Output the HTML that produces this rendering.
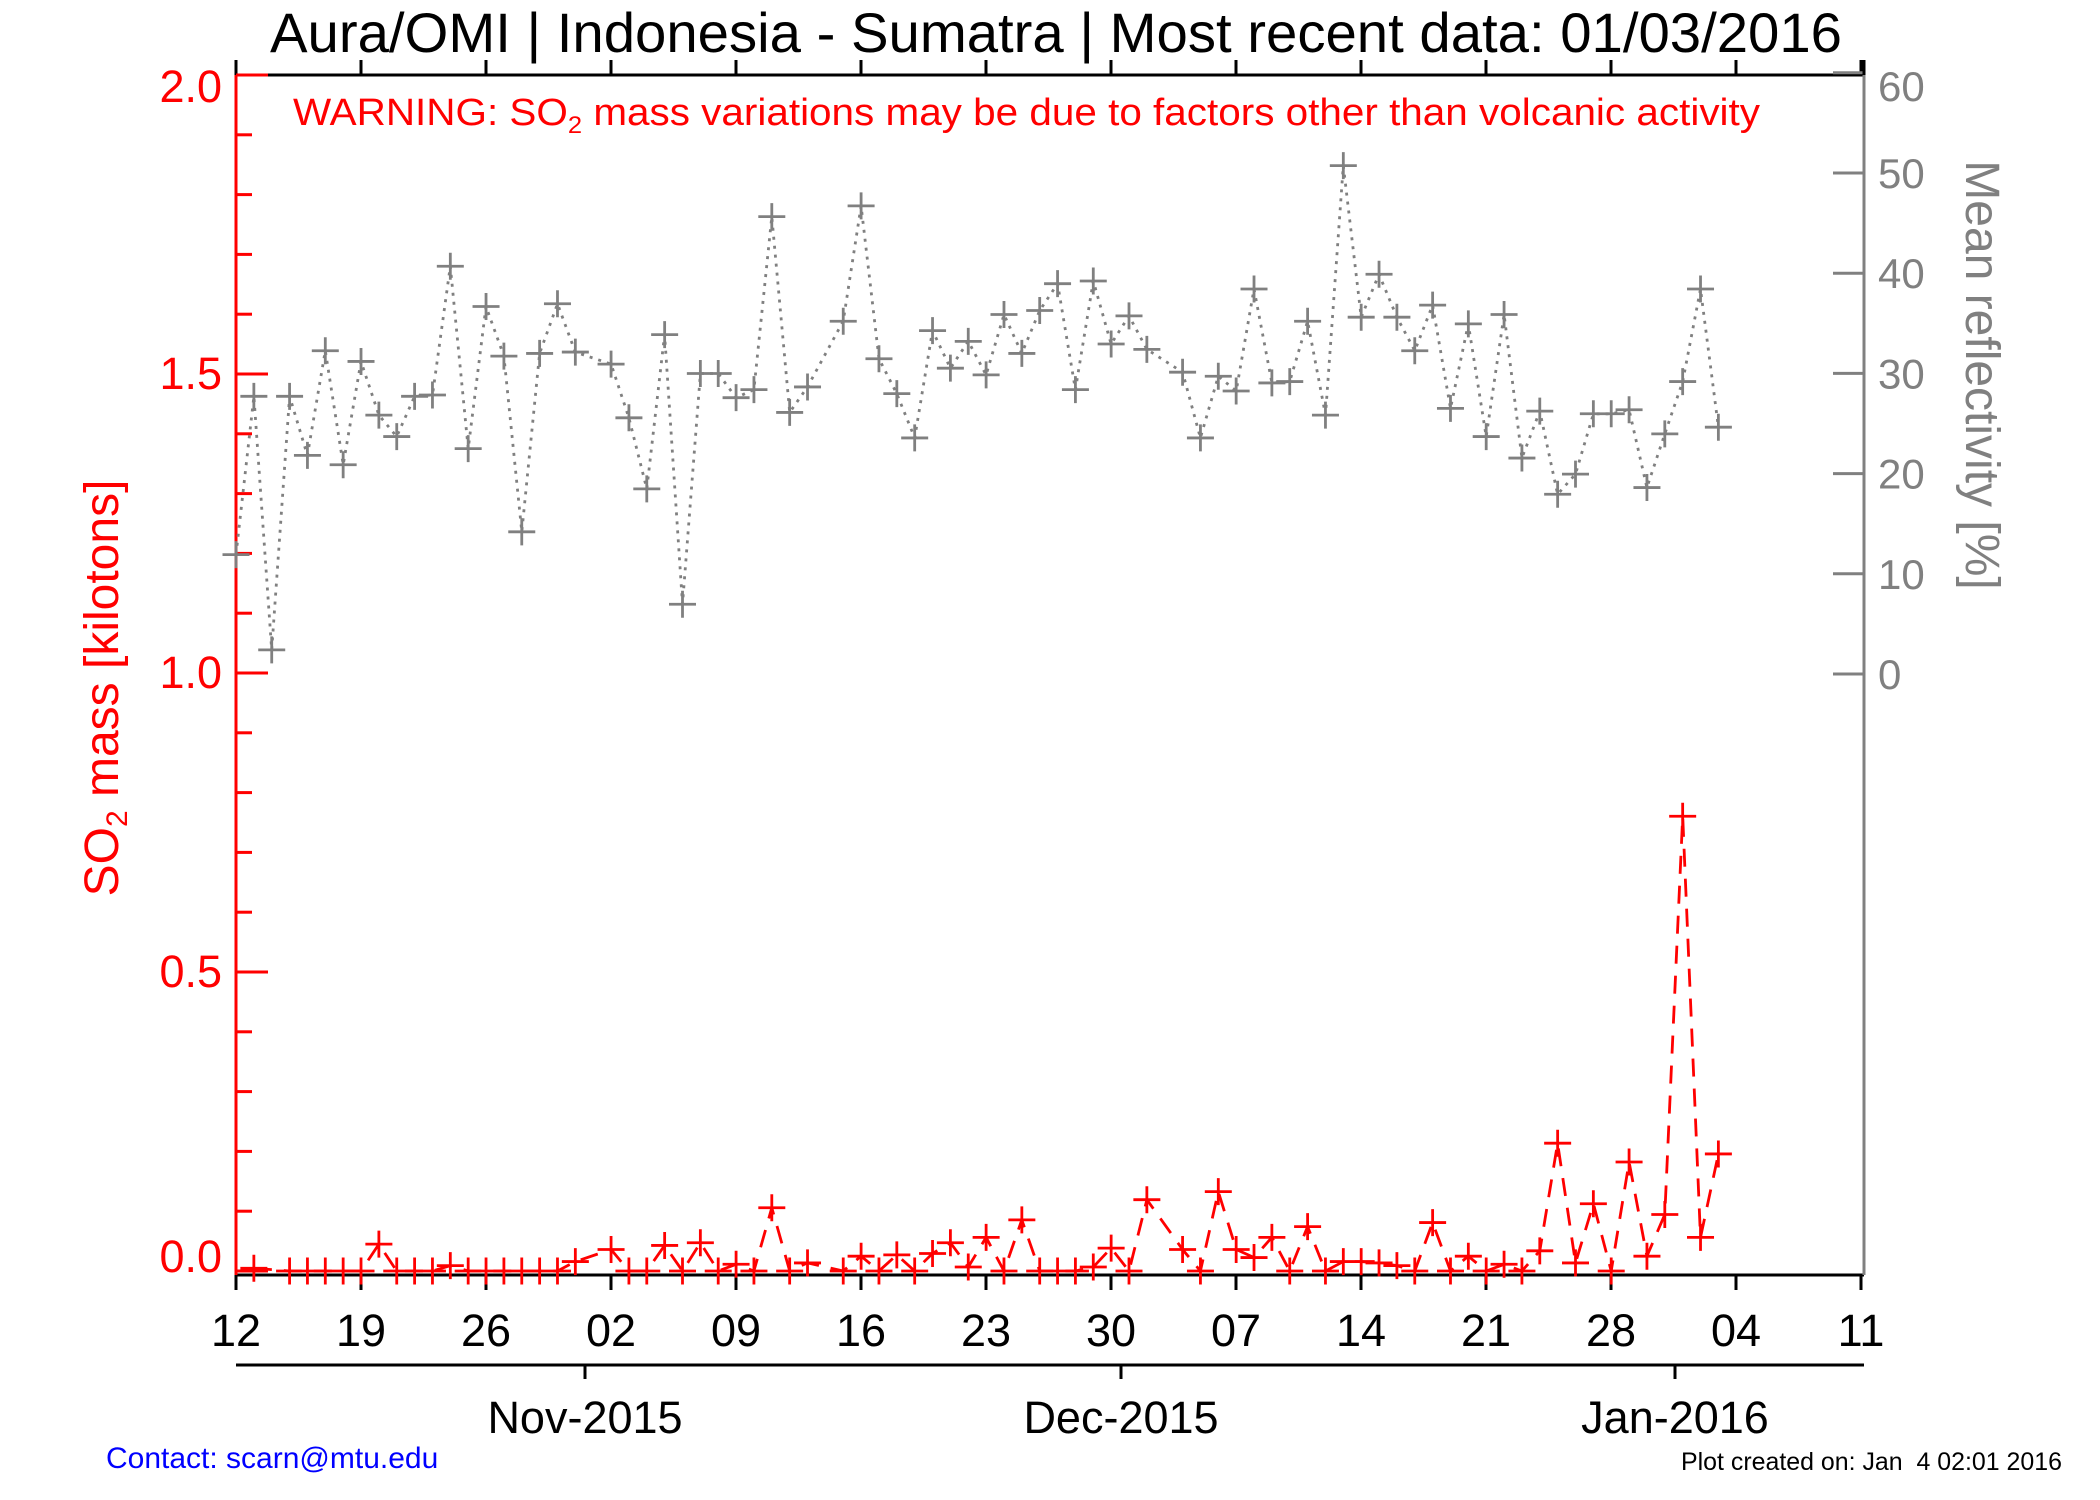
<!DOCTYPE html>
<html><head><meta charset="utf-8">
<style>
html,body{margin:0;padding:0;background:#fff;}
svg{display:block;}
text{font-family:"Liberation Sans",sans-serif;}
</style></head>
<body>
<svg id="s" width="2100" height="1500" viewBox="0 0 2100 1500" xmlns="http://www.w3.org/2000/svg">
<rect width="2100" height="1500" fill="#fff"/>
<text x="1056" y="52" font-size="56" text-anchor="middle" textLength="1572" lengthAdjust="spacingAndGlyphs" fill="#000">Aura/OMI | Indonesia - Sumatra | Most recent data: 01/03/2016</text>
<text x="293" y="125" font-size="38" fill="#f00" textLength="1467" lengthAdjust="spacingAndGlyphs">WARNING: SO<tspan font-size="24" dy="8">2</tspan><tspan dy="-8"> mass variations may be due to factors other than volcanic activity</tspan></text>
<g id="axes"></g>
<g id="data"></g>
<text transform="translate(118,688) rotate(-90)" font-size="48" fill="#f00" text-anchor="middle">SO<tspan font-size="30" dy="9">2</tspan><tspan dy="-9"> mass [kilotons]</tspan></text>
<text transform="translate(1966,375) rotate(90)" font-size="48" fill="#808080" text-anchor="middle">Mean reflectivity [%]</text>
<text x="106" y="1468" font-size="30" fill="#00f">Contact: scarn@mtu.edu</text>
<text x="1681" y="1470" font-size="25" fill="#000" textLength="381" lengthAdjust="spacingAndGlyphs">Plot created on: Jan&#160;&#160;4 02:01 2016</text>
</svg>
<script>
var NS="http://www.w3.org/2000/svg";
function el(p,t,a,txt){var e=document.createElementNS(NS,t);for(var k in a)e.setAttribute(k,a[k]);if(txt!==undefined)e.textContent=txt;p.appendChild(e);return e;}
var ax=document.getElementById('axes'),dg=document.getElementById('data');
var L=236,R=1864,B=1275,T=75;
function X(d){return L+17.86*d;}
function YL(v){return 1271-598*v;}
function YR(v){return 674-10.02*v;}
el(ax,'line',{x1:L,y1:B,x2:R,y2:B,stroke:'#000','stroke-width':3});
el(ax,'line',{x1:L,y1:T,x2:R,y2:T,stroke:'#000','stroke-width':3});
var labs=['12','19','26','02','09','16','23','30','07','14','21','28','04','11'];
for(var i=0;i<14;i++){var x=L+125*i;
 el(ax,'line',{x1:x,y1:B,x2:x,y2:B+15,stroke:'#000','stroke-width':3});
 el(ax,'line',{x1:x,y1:T,x2:x,y2:T-15,stroke:'#000','stroke-width':3});
 el(ax,'text',{x:x,y:1346,'font-size':45,'text-anchor':'middle',fill:'#000'},labs[i]);}
el(ax,'line',{x1:L,y1:1365,x2:R,y2:1365,stroke:'#000','stroke-width':3});
[[585,'Nov-2015'],[1121,'Dec-2015'],[1675,'Jan-2016']].forEach(function(m){
 el(ax,'line',{x1:m[0],y1:1365,x2:m[0],y2:1379,stroke:'#000','stroke-width':3});
 el(ax,'text',{x:m[0],y:1433,'font-size':45,'text-anchor':'middle',fill:'#000'},m[1]);});
el(ax,'line',{x1:L,y1:T,x2:L,y2:B,stroke:'#f00','stroke-width':3});
for(var k=0;k<=20;k++){var y=YL(k*0.1);var len=(k%5==0)?32:16;
 el(ax,'line',{x1:L,y1:y,x2:L+len,y2:y,stroke:'#f00','stroke-width':3});}
[['2.0',102],['1.5',389],['1.0',688],['0.5',987],['0.0',1272]].forEach(function(a){
 el(ax,'text',{x:222,y:a[1],'font-size':45,'text-anchor':'end',fill:'#f00'},a[0]);});
el(ax,'line',{x1:R,y1:60,x2:R,y2:B,stroke:'#808080','stroke-width':3});
for(var v=0;v<=60;v+=10){var y=YR(v);
 el(ax,'line',{x1:R-31,y1:y,x2:R,y2:y,stroke:'#808080','stroke-width':3});
 el(ax,'text',{x:1878,y:(v==60?101:y+15),'font-size':42,fill:'#808080'},String(v));}
el(ax,'line',{x1:R,y1:T,x2:R,y2:60,stroke:'#000','stroke-width':3});
var g=[[176,415],[189,297],[202,486],[216,297],[229,341],[243,263],[256,348],[270,271],[283,311],[296,327],[310,297],[323,296],[337,200],[350,336],[363,230],[377,267],[390,398],[403,265],[417,228],[430,264],[457,273],[470,313],[483,366],[497,251],[510,452],[523,280],[537,280],[550,298],[563,292],[577,163],[590,309],[603,290],[630,241],[644,155],[657,269],[670,295],[684,328],[697,248],[711,276],[724,256],[737,281],[751,236],[764,265],[777,233],[791,213],[804,292],[817,211],[831,258],[844,237],[857,262],[884,279],[897,328],[911,282],[924,293],[937,217],[951,287],[964,286],[977,241],[991,311],[1004,125],[1017,238],[1031,206],[1044,238],[1057,263],[1071,229],[1084,306],[1097,243],[1111,327],[1124,236],[1137,343],[1151,308],[1164,370],[1177,355],[1191,310],[1204,310],[1217,307],[1231,365],[1244,325],[1258,286],[1271,217],[1285,320]];
var r=[[189,943],[216,945],[229,950],[243,950],[256,950],[270,950],[283,925],[296,951],[310,951],[323,951],[337,941],[350,951],[363,951],[377,951],[390,950],[403,949],[417,948],[430,938],[457,929],[470,951],[483,951],[497,926],[510,951],[523,924],[537,951],[550,940],[563,951],[577,898],[590,951],[603,939],[630,951],[644,934],[657,951],[670,933],[684,951],[697,932],[711,924],[724,942],[737,920],[751,951],[764,907],[777,951],[791,949],[804,947],[817,942],[831,928],[844,951],[857,892],[884,929],[897,945],[911,886],[924,929],[937,935],[951,920],[964,951],[977,912],[991,951],[1004,938],[1017,938],[1031,939],[1044,941],[1057,947],[1071,909],[1084,951],[1097,934],[1111,947],[1124,940],[1137,946],[1151,930],[1164,850],[1177,939],[1191,895],[1204,950],[1217,864],[1231,934],[1244,903],[1258,607],[1271,920],[1285,858]];
function conv(arr,kind){return arr.map(function(p){var d=Math.round((p[0]-176)/13.35);var y;
 if(kind=='g'){y=YR((504-p[1])/7.47);}else{var v=(945-p[1])/444.5;if(v<0)v=0;y=YL(v);}
 return [X(d),y];});}
function draw(pts,col,dash){
 el(dg,'polyline',{points:pts.map(function(p){return p[0].toFixed(1)+','+p[1].toFixed(1);}).join(' '),fill:'none',stroke:col,'stroke-width':2.8,'stroke-dasharray':dash});
 var d='';pts.forEach(function(p){d+='M'+(p[0]-13.5)+' '+p[1]+'h27M'+p[0]+' '+(p[1]-13.5)+'v27';});
 el(dg,'path',{d:d,stroke:col,'stroke-width':2.8,fill:'none'});}
draw(conv(g,'g'),'#808080','3 6');
draw(conv(r,'r'),'#f00','18 12');
</script>
</body></html>
